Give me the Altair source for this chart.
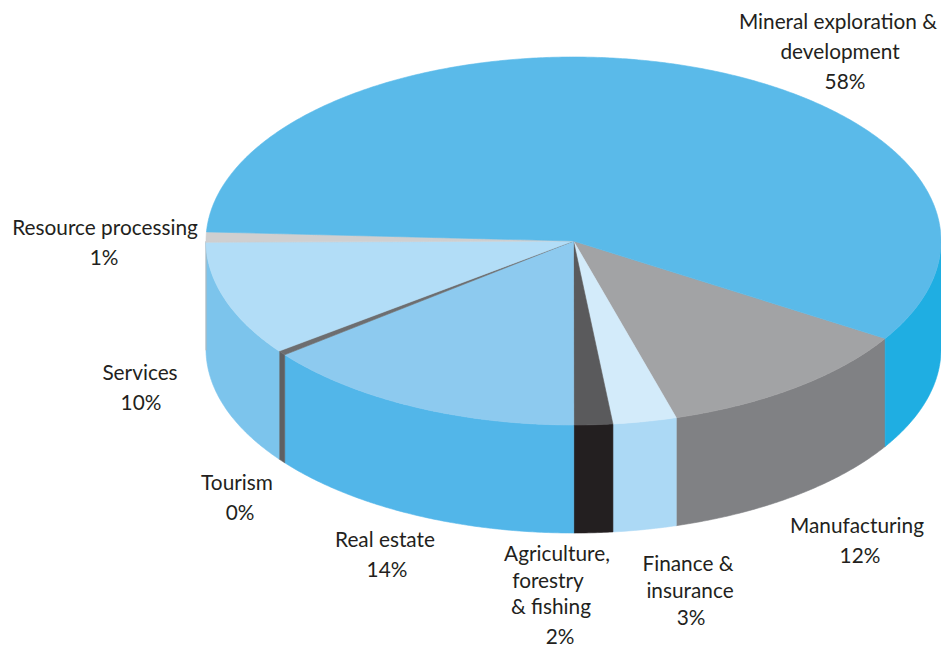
import math
import altair as alt
import pandas as pd

# Share of investment by sector, clockwise around the pie
sectors = ["Manufacturing", "Finance & insurance", "Agriculture, forestry & fishing",
           "Real estate", "Tourism", "Services", "Resource processing",
           "Mineral exploration & development"]
shares = [11.6, 2.8, 1.7, 14.4, 0.4, 10.1, 0.9, 58.1]
top_colours = ["#A2A3A5", "#D3EBFA", "#5A5A5C", "#8DCAEF", "#6D6E70", "#B2DDF7", "#CFCFD0", "#5ABAE9"]
side_colours = ["#808184", "#ACD9F5", "#231F20", "#52B6E9", "#5F6062", "#7CC4EC", "#B9B9BA", "#1FAEE2"]

# Text lines of every label, with the anchor of each line
label_lines = [
    "Mineral exploration &", "development", "58%",
    "Resource processing", "1%",
    "Services", "10%",
    "Tourism", "0%",
    "Real estate", "14%",
    "Agriculture,", "forestry", "& fishing", "2%",
    "Finance &", "insurance", "3%",
    "Manufacturing", "12%",
]
label_x = [838, 840, 845, 105, 104, 140, 141, 237, 240, 385, 387,
           557, 548, 551, 560, 688, 690, 691, 857, 860]
label_y = [23, 53, 83, 229, 259, 374, 404, 484, 514, 541, 571,
           555, 582, 608, 638, 565, 592, 619, 527, 557]

WIDTH, HEIGHT = 941, 648
CX, CY, RX, RY, DEPTH = 573.5, 241, 367.5, 184, 108
START_ANGLE = 32.0  # degrees clockwise from three o'clock


def rim(angle, drop=0.0):
    rad = math.radians(angle)
    return [CX + RX * math.cos(rad), CY + RY * math.sin(rad) + drop]


def arc(a, b, drop=0.0):
    n = max(2, int(abs(b - a) / 0.5) + 1)
    return [rim(a + (b - a) * i / n, drop) for i in range(n + 1)]


def feature(name, colour, ring):
    return {
        "type": "Feature",
        "properties": {"name": name, "colour": colour},
        "geometry": {"type": "Polygon", "coordinates": [ring + [ring[0]]]},
    }


tops, walls = [], []
angle = START_ANGLE
for name, share, top, side in zip(sectors, shares, top_colours, side_colours):
    end = angle + share * 3.6
    tops.append(feature(name, top, [[CX, CY]] + arc(angle, end)))
    # Only the front half of the cylinder wall can be seen
    for lo, hi in ((angle, end), (angle - 360, end - 360)):
        a, b = max(lo, 0), min(hi, 180)
        if b > a:
            walls.append(feature(name, side, arc(a, b) + arc(b, a, DEPTH)))
    angle = end


def faces(features):
    return alt.Chart(alt.Data(values=features)).mark_geoshape(strokeWidth=0.6).encode(
        fill=alt.Fill("properties.colour:N", scale=None),
        stroke=alt.Stroke("properties.colour:N", scale=None),
    ).project(type="identity", scale=1, translate=[0, 0])


labels = alt.Chart(pd.DataFrame({"line": label_lines, "x": label_x, "y": label_y})).mark_text(
    font="Lato", fontSize=20.8, color="#231F20", align="center", baseline="middle"
).encode(
    x=alt.X("x:Q", scale=alt.Scale(domain=[0, WIDTH], range=[0, WIDTH]), axis=None),
    y=alt.Y("y:Q", scale=alt.Scale(domain=[0, HEIGHT], range=[0, HEIGHT]), axis=None),
    text="line:N",
)

chart = alt.layer(faces(walls), faces(tops), labels).properties(
    width=WIDTH, height=HEIGHT, padding=0, autosize=alt.AutoSizeParams(type="none"),
    background="white",
).configure_view(stroke=None)

chart.save("out.html", embed_options={"renderer": "svg", "actions": False})
